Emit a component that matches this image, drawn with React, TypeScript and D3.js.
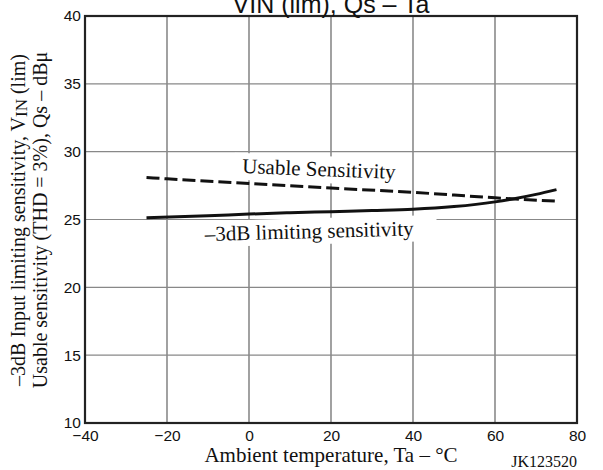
import React, { useEffect, useRef } from 'react';
import * as d3 from 'd3';

// axis ticks
const tempTicks = [-40, -20, 0, 20, 40, 60, 80];
const levelTicks = [10, 15, 20, 25, 30, 35, 40];

// -3dB limiting sensitivity (solid)
const limitTemp = [-25, -10, 0, 10, 20, 30, 40, 50, 60, 65, 70, 75];
const limitLevel = [25.13, 25.27, 25.4, 25.5, 25.58, 25.66, 25.75, 25.95, 26.3, 26.55, 26.85, 27.2];

// usable sensitivity (dashed)
const usableTemp = [-25, -20, 0, 20, 40, 60, 75];
const usableLevel = [28.1, 28.0, 27.65, 27.32, 27.0, 26.6, 26.35];

const SERIF = '"Liberation Serif", "Times New Roman", serif';
const SANS = '"Liberation Sans", Arial, sans-serif';

const W = 603, H = 470;
const left = 85, right = 577, top = 16, bottom = 423;

const App = () => {
  const ref = useRef<SVGSVGElement>(null);

  useEffect(() => {
    const svg = d3.select(ref.current);
    svg.selectAll('*').remove();

    const x = d3.scaleLinear().domain([-40, 80]).range([left, right]);
    const y = d3.scaleLinear().domain([10, 40]).range([bottom, top]);

    // grid
    svg.append('g').selectAll('line').data(tempTicks).enter().append('line')
      .attr('x1', d => x(d)).attr('x2', d => x(d))
      .attr('y1', top).attr('y2', bottom)
      .attr('stroke', '#555').attr('stroke-width', 1.1);
    svg.append('g').selectAll('line').data(levelTicks).enter().append('line')
      .attr('x1', left).attr('x2', right)
      .attr('y1', d => y(d)).attr('y2', d => y(d))
      .attr('stroke', '#888').attr('stroke-width', 1.1);

    // white boxes behind the curve labels
    const lab1 = svg.append('g').attr('transform', 'translate(242,173) rotate(2.2)');
    lab1.append('rect').attr('x', -8).attr('y', -20).attr('width', 172).attr('height', 27).attr('fill', '#fff');
    const lab2 = svg.append('g').attr('transform', 'translate(205,241) rotate(-1.5)');
    lab2.append('rect').attr('x', -5).attr('y', -20).attr('width', 237).attr('height', 26).attr('fill', '#fff');

    const line = d3.line<[number, number]>()
      .x(d => x(d[0])).y(d => y(d[1]))
      .curve(d3.curveMonotoneX);

    svg.append('path')
      .datum(limitTemp.map((t, i) => [t, limitLevel[i]] as [number, number]))
      .attr('d', line).attr('fill', 'none')
      .attr('stroke', '#111').attr('stroke-width', 3);

    svg.append('path')
      .datum(usableTemp.map((t, i) => [t, usableLevel[i]] as [number, number]))
      .attr('d', line).attr('fill', 'none')
      .attr('stroke', '#111').attr('stroke-width', 3)
      .attr('stroke-dasharray', '13,5');

    lab1.append('text').attr('font-family', SERIF).attr('font-size', 21).attr('fill', '#111')
      .text('Usable Sensitivity');
    lab2.append('text').attr('font-family', SERIF).attr('font-size', 21).attr('fill', '#111')
      .text('–3dB limiting sensitivity');

    // border
    svg.append('rect').attr('x', left).attr('y', top)
      .attr('width', right - left).attr('height', bottom - top)
      .attr('fill', 'none').attr('stroke', '#222').attr('stroke-width', 2.2);

    // axes
    const yAxis = svg.append('g').attr('transform', `translate(${left},0)`)
      .call(d3.axisLeft(y).tickValues(levelTicks).tickSize(0).tickPadding(4));
    const xAxis = svg.append('g').attr('transform', `translate(0,${bottom})`)
      .call(d3.axisBottom(x).tickValues(tempTicks).tickSize(0).tickPadding(7));
    [yAxis, xAxis].forEach(a => {
      a.select('.domain').remove();
      a.selectAll('text').attr('font-family', SANS).attr('font-size', 15.5).attr('fill', '#111');
    });

    // title (cut off at top)
    svg.append('text').attr('x', 331).attr('y', 12.5).attr('text-anchor', 'middle')
      .attr('font-family', SANS).attr('font-size', 25).attr('fill', '#111')
      .text('VIN (lim), Qs – Ta');

    svg.append('text').attr('x', 331).attr('y', 462).attr('text-anchor', 'middle')
      .attr('font-family', SERIF).attr('font-size', 21).attr('fill', '#111')
      .text('Ambient temperature, Ta – °C');

    svg.append('text').attr('x', 577).attr('y', 467).attr('text-anchor', 'end')
      .attr('font-family', SERIF).attr('font-size', 16).attr('fill', '#111')
      .text('JK123520');

    // y label, two lines
    const yl1 = svg.append('text').attr('transform', 'translate(25,220) rotate(-90)')
      .attr('text-anchor', 'middle').attr('font-family', SERIF).attr('font-size', 20).attr('fill', '#111');
    yl1.append('tspan').text('–3dB Input limiting sensitivity, V');
    yl1.append('tspan').attr('font-size', 17).attr('dy', 2).text('IN');
    yl1.append('tspan').attr('dy', -2).text(' (lim)');

    svg.append('text').attr('transform', 'translate(47,220) rotate(-90)')
      .attr('text-anchor', 'middle').attr('font-family', SERIF).attr('font-size', 20).attr('fill', '#111')
      .text('Usable sensitivity (THD = 3%), Qs – dBμ');

    return () => { svg.selectAll('*').remove(); };
  }, []);

  return (
    <svg ref={ref} width={W} height={H}
      style={{ position: 'absolute', left: 0, top: 0, background: '#fff' }} />
  );
};

export default App;
